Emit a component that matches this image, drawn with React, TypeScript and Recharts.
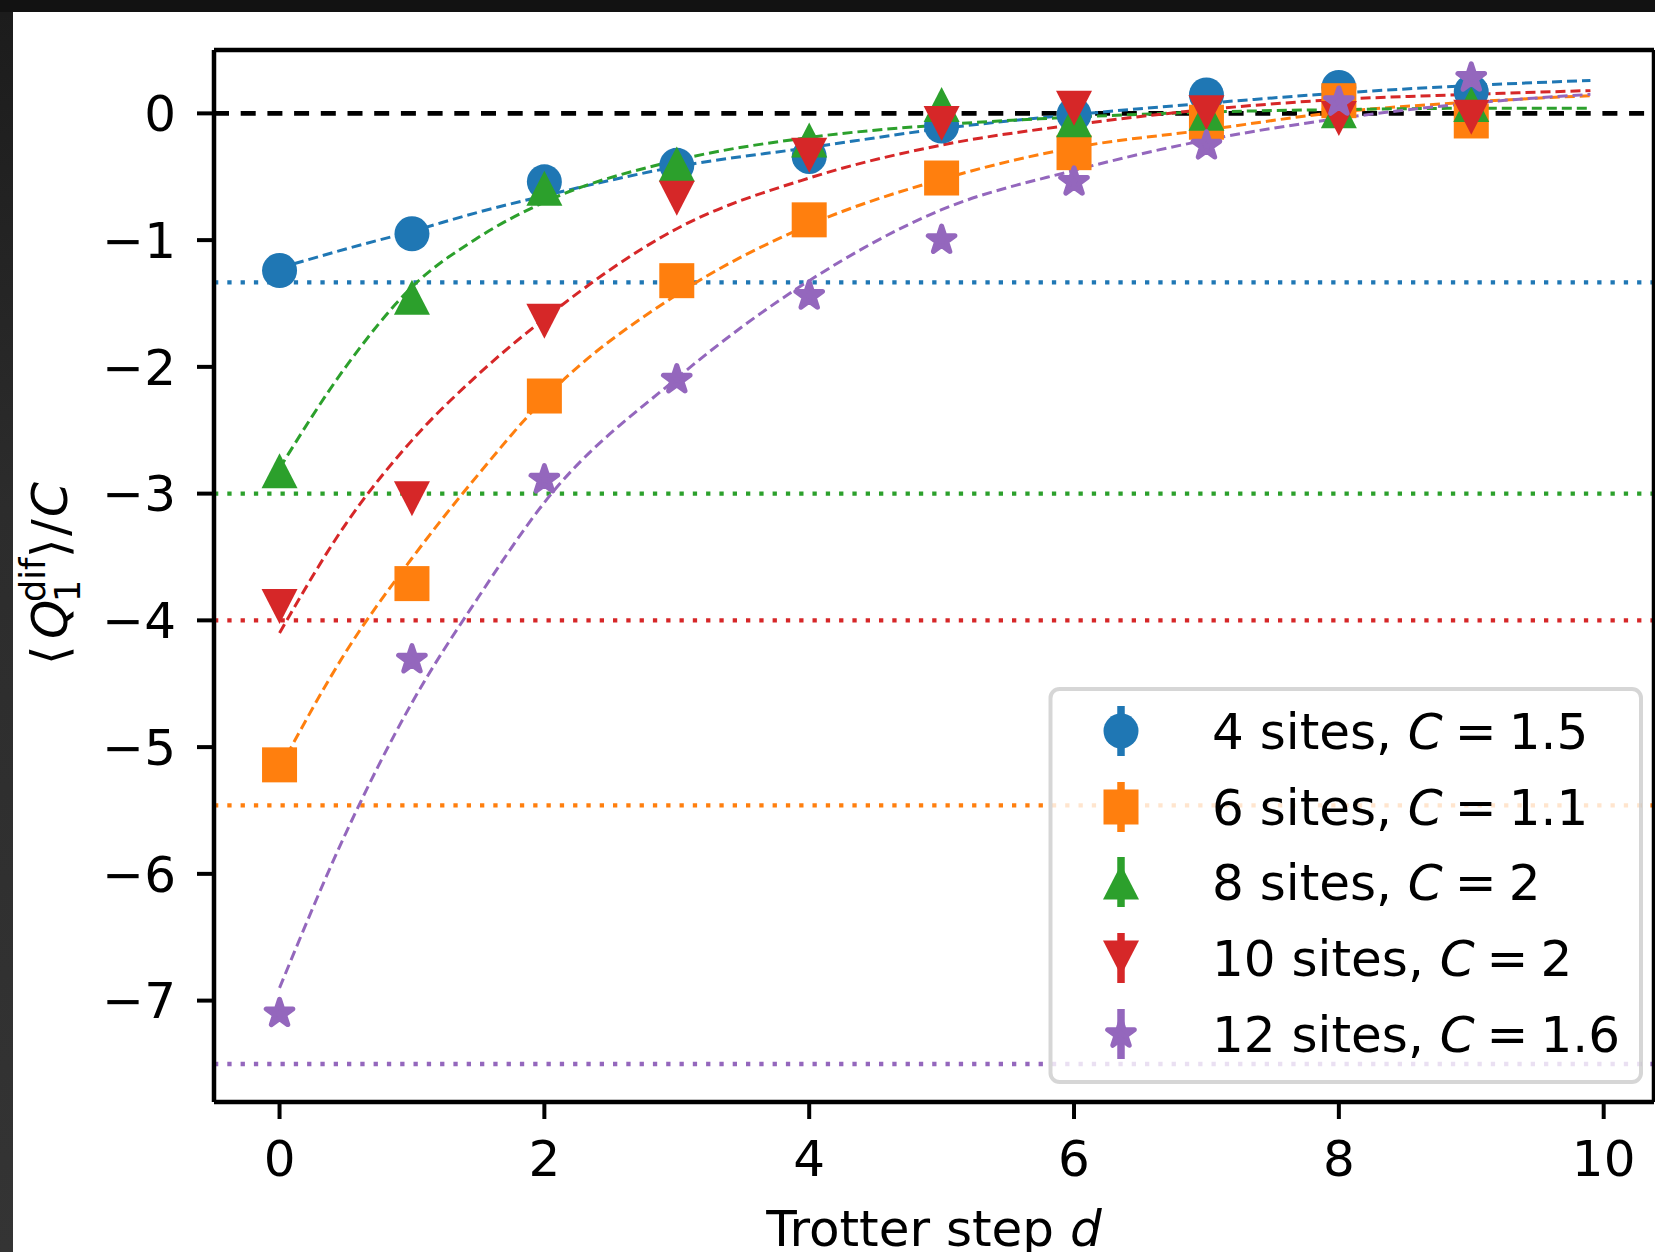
import {
  ComposedChart,
  XAxis,
  YAxis,
  Line,
  Scatter,
  ReferenceLine,
} from "recharts";

// Trotter steps with measured points
const steps = [0, 1, 2, 3, 4, 5, 6, 7, 8, 9];
const q4 = [-1.24, -0.95, -0.54, -0.41, -0.34, -0.1, -0.01, 0.145, 0.205, 0.17];
const q6 = [-5.14, -3.71, -2.23, -1.32, -0.84, -0.51, -0.31, -0.07, 0.1, -0.06];
const q8 = [-2.82, -1.45, -0.59, -0.4, -0.21, 0.07, -0.05, 0.0, 0.02, 0.07];
const q10 = [-3.89, -3.04, -1.64, -0.67, -0.33, -0.08, 0.04, 0.005, -0.04, -0.03];
const q12 = [-7.1, -4.31, -2.89, -2.1, -1.44, -1.0, -0.54, -0.255, 0.09, 0.28];

const fitSteps = [0, 0.5, 1, 1.5, 2, 3, 4, 5, 6, 7, 8, 9, 9.9];
const fit4 = [-1.22, -1.07, -0.93, -0.78, -0.65, -0.42, -0.27, -0.12, -0.01, 0.08, 0.16, 0.22, 0.26];
const fit6 = [-5.17, -4.25, -3.51, -2.85, -2.25, -1.43, -0.88, -0.52, -0.27, -0.13, 0.01, 0.09, 0.14];
const fit8 = [-2.8, -2.0, -1.37, -0.98, -0.7, -0.37, -0.19, -0.09, -0.03, 0.01, 0.03, 0.04, 0.04];
const fit10 = [-4.1, -3.24, -2.58, -2.06, -1.62, -0.91, -0.51, -0.25, -0.09, 0.03, 0.11, 0.15, 0.18];
const fit12 = [-6.9, -5.68, -4.65, -3.82, -3.07, -2.09, -1.32, -0.76, -0.45, -0.21, -0.04, 0.08, 0.15];

// dotted horizontal levels, one per system
const limits = [-1.333, -5.46, -3.0, -4.0, -7.5];

const siteLabels = ["4 sites", "6 sites", "8 sites", "10 sites", "12 sites"];
const cValues = ["1.5", "1.1", "2", "2", "1.6"];
const colors = ["#1f77b4", "#ff7f0e", "#2ca02c", "#d62728", "#9467bd"];
const markers = ["circle", "square", "up", "down", "star"];

const xTicks = [0, 2, 4, 6, 8, 10];
const yTicks = [-7, -6, -5, -4, -3, -2, -1, 0];

const FONT = "DejaVu Sans";
const X_MAX = 10.38;
const Y_MAX = 0.5;

const pointSets = [q4, q6, q8, q10, q12];
const fitSets = [fit4, fit6, fit8, fit10, fit12];

const series = siteLabels.map((label, i) => ({
  label,
  c: cValues[i],
  color: colors[i],
  marker: markers[i],
  limit: limits[i],
  points: steps.map((x, j) => ({ x, y: pointSets[i][j] })),
  fit: fitSteps.map((x, j) => ({ x, y: fitSets[i][j] })),
}));

function starPoints(cx: number, cy: number, r: number) {
  const inner = r * 0.381966;
  const pts: string[] = [];
  for (let k = 0; k < 10; k++) {
    const a = -Math.PI / 2 + (k * Math.PI) / 5;
    const rr = k % 2 === 0 ? r : inner;
    pts.push(`${cx + rr * Math.cos(a)},${cy + rr * Math.sin(a)}`);
  }
  return pts.join(" ");
}

function Marker({ kind, cx, cy, color }: { kind: string; cx: number; cy: number; color: string }) {
  if (cx == null || cy == null) return null;
  switch (kind) {
    case "circle":
      return <circle cx={cx} cy={cy} r={17.5} fill={color} />;
    case "square":
      return <rect x={cx - 17.5} y={cy - 17.5} width={35} height={35} fill={color} />;
    case "up":
      return <polygon points={`${cx},${cy - 17.5} ${cx - 18},${cy + 17.5} ${cx + 18},${cy + 17.5}`} fill={color} />;
    case "down":
      return <polygon points={`${cx},${cy + 17.5} ${cx - 18},${cy - 17.5} ${cx + 18},${cy - 17.5}`} fill={color} />;
    default:
      return (
        <polygon
          points={starPoints(cx, cy, 14)}
          fill={color}
          stroke={color}
          strokeWidth={5}
          strokeLinejoin="round"
        />
      );
  }
}

const fmtY = (v: number) => (v === 0 ? "0" : `\u2212${Math.abs(v)}`);

function YLabel() {
  return (
    <g transform="translate(67, 576) rotate(-90)" fontFamily={FONT} fill="#000">
      <text x={-89} y={0} fontSize={50}>⟨</text>
      <text x={-63} y={0} fontSize={50} fontStyle="italic">Q</text>
      <text x={-26} y={13} fontSize={35}>1</text>
      <text x={-26} y={-22} fontSize={35}>dif</text>
      <text x={18} y={0} fontSize={50}>⟩</text>
      <text x={40} y={0} fontSize={50}>/</text>
      <text x={59} y={0} fontSize={50} fontStyle="italic">C</text>
    </g>
  );
}

function XLabel() {
  return (
    <text x={934} y={1246} textAnchor="middle" fontFamily={FONT} fontSize={50} fill="#000">
      Trotter step <tspan fontStyle="italic">d</tspan>
    </text>
  );
}

function LegendBox() {
  const rowY = [44, 120, 195, 271, 347];
  return (
    <svg
      width={597}
      height={398}
      style={{ position: "absolute", left: 1048, top: 687 }}
    >
      <rect
        x={2.5}
        y={2}
        width={590.5}
        height={393}
        rx={9}
        fill="#ffffff"
        fillOpacity={0.8}
        stroke="#cccccc"
        strokeOpacity={0.8}
        strokeWidth={4}
      />
      {series.map((s, i) => (
        <g key={s.label}>
          <line x1={73} x2={73} y1={rowY[i] - 25} y2={rowY[i] + 25} stroke={s.color} strokeWidth={7.5} />
          <Marker kind={s.marker} cx={73} cy={rowY[i]} color={s.color} />
          <text x={164} y={rowY[i] + 18} fontFamily={FONT} fontSize={50} fill="#000">
            {s.label}, <tspan fontStyle="italic">C</tspan>
            <tspan dx={12}>=</tspan>
            <tspan dx={12}>{s.c}</tspan>
          </text>
        </g>
      ))}
    </svg>
  );
}

export default function App() {
  return (
    <div
      style={{
        position: "absolute",
        left: 0,
        top: 0,
        width: 1655,
        height: 1252,
        background: "#121212",
        overflow: "hidden",
      }}
    >
      <div
        style={{
          position: "absolute",
          left: 0,
          top: 12,
          width: 13,
          height: 1240,
          background: "linear-gradient(#1c1c1c, #2c2c2c 40%, #343434)",
        }}
      />
      <div
        style={{
          position: "absolute",
          left: 13,
          top: 12,
          width: 1642,
          height: 1240,
          background: "#ffffff",
        }}
      />
      <div style={{ position: "absolute", left: 0, top: 0 }}>
        <ComposedChart
          width={1655}
          height={1252}
          margin={{ top: 50, right: 1, left: 0, bottom: 0 }}
          style={{ fontFamily: FONT }}
        >
          <XAxis
            type="number"
            dataKey="x"
            domain={[-0.495, X_MAX]}
            ticks={xTicks}
            allowDataOverflow
            height={150}
            tickSize={17}
            tickMargin={21}
            axisLine={{ stroke: "#000", strokeWidth: 4.5 }}
            tickLine={{ stroke: "#000", strokeWidth: 4 }}
            tick={{ fontSize: 50, fill: "#000", fontFamily: FONT }}
            label={XLabel}
          />
          <YAxis
            type="number"
            domain={[-7.8, Y_MAX]}
            ticks={yTicks}
            allowDataOverflow
            width={214}
            tickSize={17}
            tickMargin={21}
            tickFormatter={fmtY}
            axisLine={{ stroke: "#000", strokeWidth: 4.5 }}
            tickLine={{ stroke: "#000", strokeWidth: 4 }}
            tick={{ fontSize: 50, fill: "#000", fontFamily: FONT }}
            label={YLabel}
          />
          {series.map((s) => (
            <ReferenceLine
              key={`lim-${s.label}`}
              y={s.limit}
              stroke={s.color}
              strokeWidth={4.3}
              strokeDasharray="4.3 9"
            />
          ))}
          <ReferenceLine y={0} stroke="#000" strokeWidth={4.7} strokeDasharray="15 11.7" />
          {series.map((s) => (
            <Scatter
              key={`pts-${s.label}`}
              name={s.label}
              data={s.points}
              dataKey="y"
              fill={s.color}
              isAnimationActive={false}
              shape={(p: any) => <Marker kind={s.marker} cx={p.cx} cy={p.cy} color={s.color} />}
            />
          ))}
          {series.map((s) => (
            <Line
              key={`fit-${s.label}`}
              data={s.fit}
              dataKey="y"
              type="monotone"
              stroke={s.color}
              strokeWidth={3}
              strokeDasharray="10 5"
              dot={false}
              activeDot={false}
              isAnimationActive={false}
            />
          ))}
          <ReferenceLine y={Y_MAX} stroke="#000" strokeWidth={4.5} />
          <ReferenceLine x={X_MAX} stroke="#000" strokeWidth={4.5} />
        </ComposedChart>
      </div>
      <LegendBox />
    </div>
  );
}
